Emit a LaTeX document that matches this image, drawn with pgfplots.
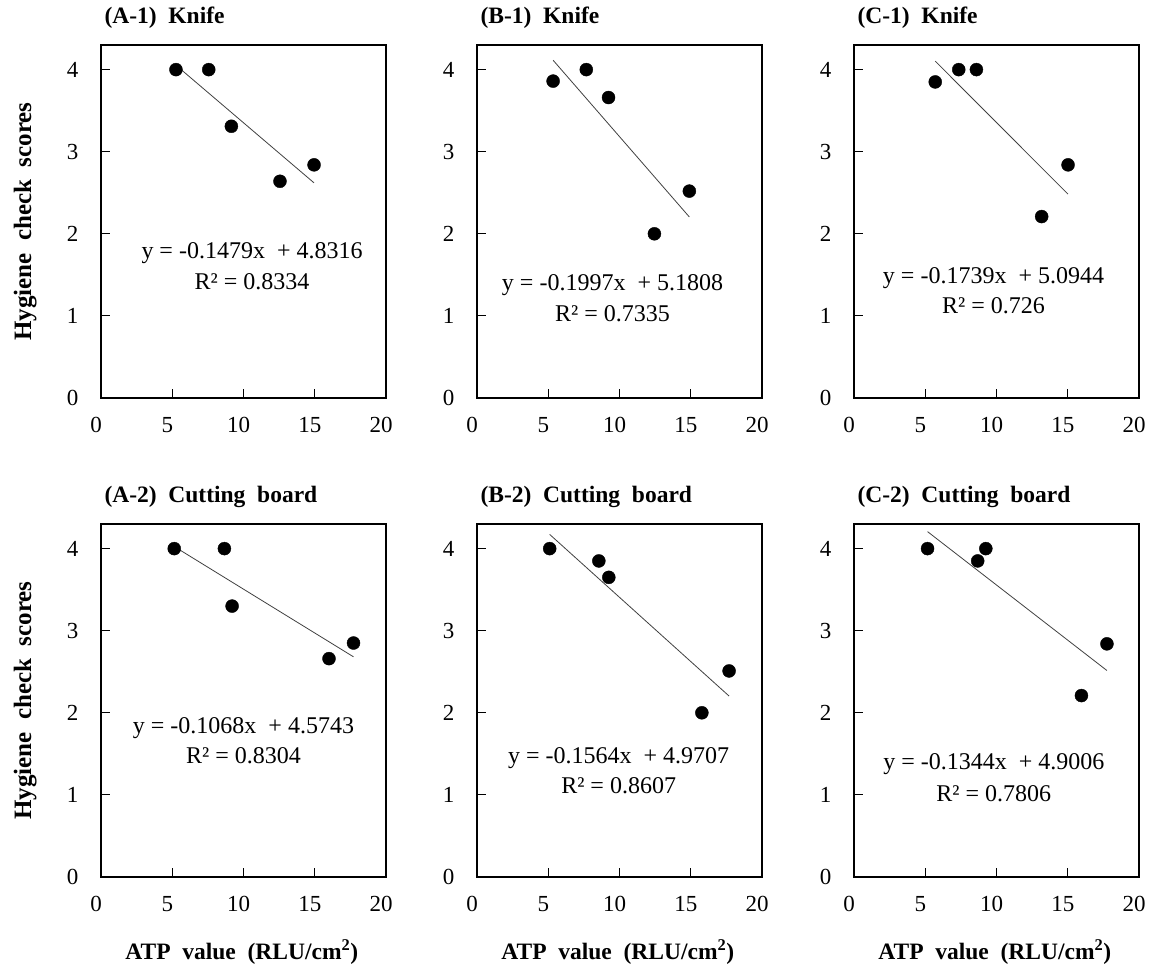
\documentclass[border=0pt]{standalone}
\usepackage{fontspec}
\setmainfont{Liberation Serif}
\usepackage{pgfplots}
\pgfplotsset{compat=1.18}
\pgfplotsset{
  panel/.style={
    scale only axis, width=285pt, height=353pt,
    xmin=0, xmax=20, ymin=0, ymax=4.3,
    xtick={0,5,10,15,20}, ytick={0,1,2,3,4},
    tick align=inside, xtick pos=left, ytick pos=left,
    axis line style={line width=1.4pt},
    major tick length=9pt,
    tick style={line width=1pt, black},
    /pgf/number format/assume math mode=true,
    tick label style={font=\fontsize{23}{26}\selectfont},
    xticklabel style={xshift=-5pt, yshift=-16pt},
    yticklabel style={xshift=-19pt},
    clip=false,
    title style={at={(axis description cs:0,1.044)}, anchor=base west, font=\bfseries\fontsize{23.5}{28}\selectfont},
    every axis y label/.style={at={(axis description cs:-0.266,0.5)}, rotate=90, anchor=center, font=\bfseries\fontsize{25}{30}\selectfont},
    every axis x label/.style={at={(axis description cs:0.494,-0.212)}, anchor=center, font=\bfseries\fontsize{23.5}{28}\selectfont},
  },
  trend/.style={line width=0.8pt, color=black!75, no marks},
  pts/.style={only marks, mark=*, mark size=6.5pt, color=black},
}
\tikzset{eq/.style={font=\fontsize{24}{28}\selectfont, anchor=center}}
\newcommand{\yl}{Hygiene\ \ check\ \ scores}
\newcommand{\xl}{ATP\ \ value\ \ (RLU/cm\textsuperscript{2})}
\begin{document}
\begin{tikzpicture}
\useasboundingbox (0pt,0pt) rectangle (1153pt,965pt);
% A-1
\begin{axis}[panel, at={(101pt,567pt)}, anchor=south west, title={(A-1)\ \ Knife}, ylabel={\yl}]
\addplot[trend] coordinates {(5.26,4.0536) (14.95,2.6205)};
\addplot[pts] coordinates {(5.26,4.0) (7.56,4.0) (9.15,3.31) (12.56,2.64) (14.95,2.84)};
\node[eq] at (axis cs:10.6,1.76) {y = -0.1479x\ \ + 4.8316};
\node[eq] at (axis cs:10.6,1.42) {R² = 0.8334};
\end{axis}
% B-1
\begin{axis}[panel, at={(477pt,567pt)}, anchor=south west, title={(B-1)\ \ Knife}]
\addplot[trend] coordinates {(5.34,4.1144) (14.9,2.2053)};
\addplot[pts] coordinates {(5.34,3.86) (7.67,4.0) (9.23,3.66) (12.45,2.0) (14.9,2.52)};
\node[eq] at (axis cs:9.51,1.38) {y = -0.1997x\ \ + 5.1808};
\node[eq] at (axis cs:9.51,1.03) {R² = 0.7335};
\end{axis}
% C-1
\begin{axis}[panel, at={(854pt,567pt)}, anchor=south west, title={(C-1)\ \ Knife}]
\addplot[trend] coordinates {(5.70,4.1032) (15.02,2.4824)};
\addplot[pts] coordinates {(5.70,3.85) (7.35,4.0) (8.59,4.0) (13.17,2.21) (15.02,2.84)};
\node[eq] at (axis cs:9.79,1.46) {y = -0.1739x\ \ + 5.0944};
\node[eq] at (axis cs:9.79,1.13) {R² = 0.726};
\end{axis}
% A-2
\begin{axis}[panel, at={(101pt,88pt)}, anchor=south west, title={(A-2)\ \ Cutting\ \ board}, ylabel={\yl}, xlabel={\xl}]
\addplot[trend] coordinates {(5.14,4.0253) (17.72,2.6818)};
\addplot[pts] coordinates {(5.14,4.0) (8.66,4.0) (9.2,3.30) (16.0,2.66) (17.72,2.85)};
\node[eq] at (axis cs:10.0,1.81) {y = -0.1068x\ \ + 4.5743};
\node[eq] at (axis cs:10.0,1.48) {R² = 0.8304};
\end{axis}
% B-2
\begin{axis}[panel, at={(477pt,88pt)}, anchor=south west, title={(B-2)\ \ Cutting\ \ board}, xlabel={\xl}]
\addplot[trend] coordinates {(5.10,4.1731) (17.69,2.2040)};
\addplot[pts] coordinates {(5.10,4.0) (8.55,3.85) (9.25,3.65) (15.78,2.0) (17.69,2.51)};
\node[eq] at (axis cs:9.94,1.445) {y = -0.1564x\ \ + 4.9707};
\node[eq] at (axis cs:9.94,1.11) {R² = 0.8607};
\end{axis}
% C-2
\begin{axis}[panel, at={(854pt,88pt)}, anchor=south west, title={(C-2)\ \ Cutting\ \ board}, xlabel={\xl}]
\addplot[trend] coordinates {(5.16,4.2071) (17.75,2.5150)};
\addplot[pts] coordinates {(5.16,4.0) (8.68,3.85) (9.25,4.0) (15.96,2.21) (17.75,2.84)};
\node[eq] at (axis cs:9.81,1.37) {y = -0.1344x\ \ + 4.9006};
\node[eq] at (axis cs:9.81,1.02) {R² = 0.7806};
\end{axis}
\end{tikzpicture}
\end{document}
